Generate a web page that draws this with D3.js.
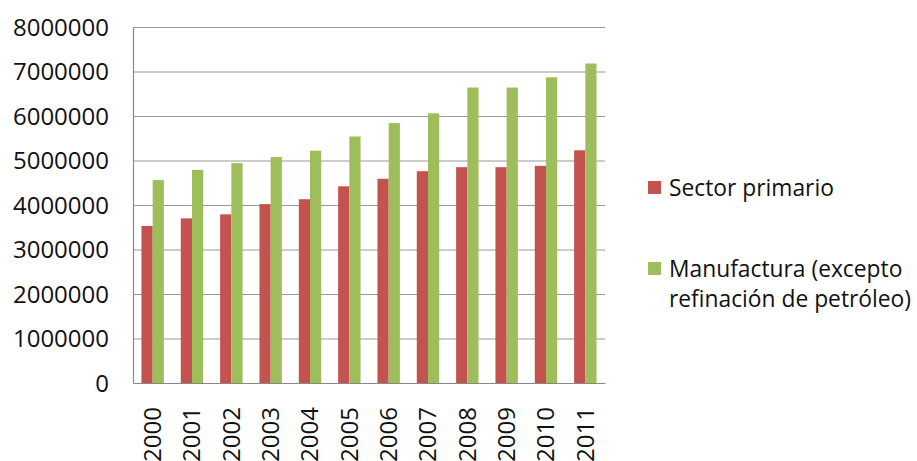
<!DOCTYPE html>
<html>
<head>
<meta charset="utf-8">
<script src="https://cdn.jsdelivr.net/npm/d3@7"></script>
<style>
  html, body { margin: 0; padding: 0; background: #fff; }
  svg { display: block; }
  text { font-family: "Open Sans", "Liberation Sans", sans-serif; fill: #111; }
</style>
</head>
<body>
<svg id="chart" width="917" height="461"></svg>
<script>
// Años y valores de cada serie
const years = ["2000","2001","2002","2003","2004","2005","2006","2007","2008","2009","2010","2011"];
const sectorPrimario = [3530000,3700000,3790000,4020000,4130000,4420000,4590000,4760000,4850000,4850000,4880000,5230000];
const manufactura = [4560000,4790000,4940000,5080000,5220000,5540000,5840000,6060000,6640000,6640000,6870000,7180000];
const seriesNames = ["Sector primario", "Manufactura (excepto refinación de petróleo)"];
const seriesColors = ["#C4534F", "#9EBE5C"];
const yTicks = [0,1000000,2000000,3000000,4000000,5000000,6000000,7000000,8000000];

const svg = d3.select("#chart");
const plot = { left: 133, right: 605, top: 27, bottom: 383 };

const x = d3.scaleBand().domain(years).range([plot.left, plot.right]).paddingInner(0.43).paddingOuter(0.215);
const xs = d3.scaleBand().domain([0, 1]).range([0, x.bandwidth()]);
const y = d3.scaleLinear().domain([0, 8000000]).range([plot.bottom, plot.top]);

// Líneas de división horizontales
svg.append("g")
  .selectAll("line")
  .data(yTicks.slice(1))
  .join("line")
  .attr("x1", plot.left).attr("x2", plot.right)
  .attr("y1", d => y(d) + 0.5).attr("y2", d => y(d) + 0.5)
  .attr("stroke", "#9a9a9a").attr("stroke-width", 1.2);

// Eje vertical
const yAxis = svg.append("g")
  .attr("transform", `translate(${plot.left},0)`)
  .call(d3.axisLeft(y).tickValues(yTicks).tickSize(0).tickPadding(24).tickFormat(d3.format("d")));
yAxis.select(".domain").attr("stroke", "#888").attr("stroke-width", 1.2);
yAxis.selectAll("text").style("font-size", "24px").attr("dy", "0.35em").attr("fill", "#111");

// Barras
const data = years.map((yr, i) => ({ yr, vals: [sectorPrimario[i], manufactura[i]] }));
const groups = svg.append("g").selectAll("g").data(data).join("g")
  .attr("transform", d => `translate(${x(d.yr)},0)`);
groups.selectAll("rect")
  .data(d => d.vals.map((v, k) => ({ v, k })))
  .join("rect")
  .attr("x", d => xs(d.k))
  .attr("width", xs.bandwidth())
  .attr("y", d => y(d.v))
  .attr("height", d => y(0) - y(d.v))
  .attr("fill", d => seriesColors[d.k]);

// Eje horizontal con etiquetas giradas
const xAxis = svg.append("g")
  .attr("transform", `translate(0,${plot.bottom})`)
  .call(d3.axisBottom(x).tickSize(0).tickSizeOuter(0));
xAxis.select(".domain").attr("stroke", "#888").attr("stroke-width", 1.2);
xAxis.selectAll("text")
  .style("font-size", "24px")
  .attr("fill", "#111")
  .attr("transform", "rotate(-90)")
  .attr("text-anchor", "end")
  .attr("x", -24)
  .attr("y", 0)
  .attr("dy", "0.35em");

// Leyenda
const legend = svg.append("g");
const legendItems = [
  { lines: ["Sector primario"], color: seriesColors[0], y: 181 },
  { lines: ["Manufactura (excepto", "refinación de petróleo)"], color: seriesColors[1], y: 262 }
];
legendItems.forEach(it => {
  legend.append("rect").attr("x", 648).attr("y", it.y).attr("width", 13).attr("height", 13).attr("fill", it.color);
  const t = legend.append("text").attr("x", 669).attr("y", it.y + 15).style("font-size", "22.8px");
  it.lines.forEach((ln, i) => t.append("tspan").attr("x", 669).attr("dy", i === 0 ? 0 : 30).text(ln));
});
</script>
</body>
</html>
